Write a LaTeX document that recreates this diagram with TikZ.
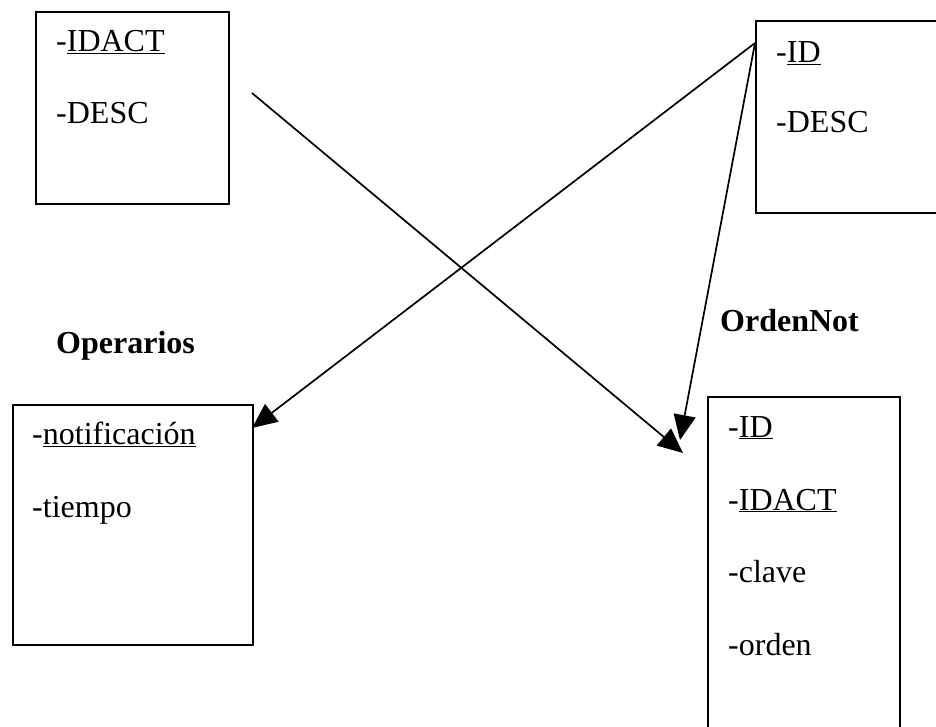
\documentclass[tikz,border=0pt]{standalone}
\usepackage{fontspec}
\setmainfont{Liberation Serif}
\usetikzlibrary{arrows.meta}
% key attribute: underlined name
\newcommand{\keyattr}[1]{\underline{\smash{#1}}}
\begin{document}
\begin{tikzpicture}[x=1pt,y=1pt,
  entity/.style={draw,line width=1.8pt,rectangle,inner sep=0pt,anchor=north west},
  field/.style={anchor=base west,inner sep=0pt,font=\fontsize{32}{38}\selectfont},
  title/.style={anchor=base west,inner sep=0pt,font=\fontsize{32}{38}\selectfont\bfseries},
  link/.style={line width=1.7pt,-{Triangle[length=25pt,width=22pt]}}]
\useasboundingbox (0,0) rectangle (936,726);
\clip (0,0) rectangle (936,726);

% entity boxes
\node[entity,minimum width=193pt,minimum height=192pt] (act) at (35,715) {};
\node[entity,minimum width=220pt,minimum height=192pt] (tipo) at (755,706) {};
\node[entity,minimum width=240pt,minimum height=240pt] (ops) at (12,322) {};
\node[entity,minimum width=192pt,minimum height=360pt] (ord) at (707,330) {};

% titles
\node[title] (opst) at (56,372) {Operarios};
\node[title] (ordt) at (720,394) {OrdenNot};

% attributes
\node[field] (a1) at (56,674) {-\keyattr{IDACT}};
\node[field] (a2) at (56,602) {-DESC};
\node[field] (b1) at (776,663) {-\keyattr{ID}};
\node[field] (b2) at (776,593) {-DESC};
\node[field] (c1) at (32,281) {-\keyattr{notificación}};
\node[field] (c2) at (32,209) {-tiempo};
\node[field] (d1) at (728,289) {-\keyattr{ID}};
\node[field] (d2) at (728,216) {-\keyattr{IDACT}};
\node[field] (d3) at (728,144) {-clave};
\node[field] (d4) at (728,71) {-orden};

% connector end points
\coordinate (s1) at (252,633);
\coordinate (src) at (755,683);
\coordinate (t1) at (683,273);
\coordinate (t2) at (252,298);
\coordinate (t3) at (680,286);

\draw[link] (s1) -- (t1);
\draw[link] (src) -- (t2);
\draw[link] (src) -- (t3);
\end{tikzpicture}
\end{document}
